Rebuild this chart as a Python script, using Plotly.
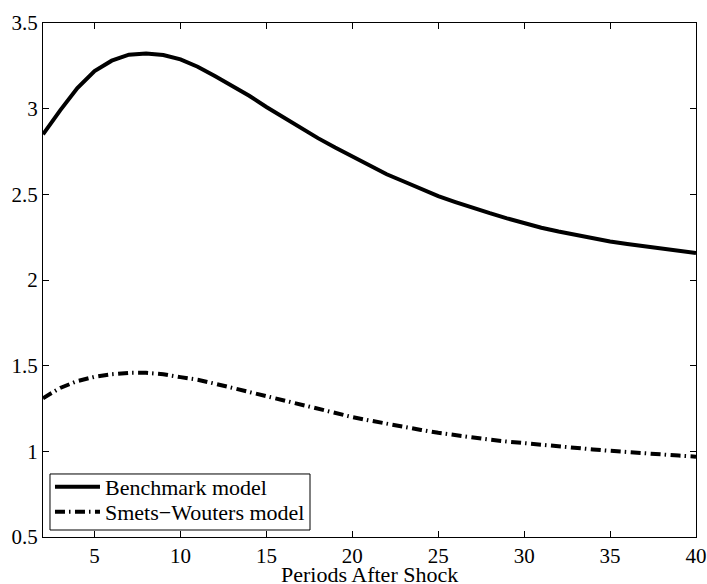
import plotly.graph_objects as go

periods = list(range(2, 41))
benchmark = [2.85, 2.99, 3.12, 3.22, 3.28, 3.315, 3.322, 3.313, 3.288, 3.245,
             3.19, 3.135, 3.075, 3.01, 2.948, 2.888, 2.828, 2.773, 2.72, 2.665,
             2.617, 2.575, 2.53, 2.49, 2.455, 2.42, 2.39, 2.36, 2.33, 2.305,
             2.283, 2.262, 2.243, 2.225, 2.21, 2.196, 2.183, 2.17, 2.158]
smets_wouters = [1.31, 1.37, 1.41, 1.435, 1.45, 1.458, 1.458, 1.45, 1.433, 1.418,
                 1.395, 1.37, 1.345, 1.32, 1.295, 1.27, 1.248, 1.225, 1.20, 1.18,
                 1.16, 1.142, 1.125, 1.108, 1.093, 1.08, 1.068, 1.057, 1.047, 1.038,
                 1.029, 1.02, 1.011, 1.003, 0.995, 0.988, 0.981, 0.975, 0.969]
x_ticks = [5, 10, 15, 20, 25, 30, 35, 40]
y_ticks = [0.5, 1, 1.5, 2, 2.5, 3, 3.5]
y_tick_labels = ["0.5", "1", "1.5", "2", "2.5", "3", "3.5"]
x_title = "Periods After Shock"

font_family = "Liberation Serif, Times New Roman, serif"

fig = go.Figure()
fig.add_trace(go.Scatter(x=periods, y=benchmark, mode="lines", name="Benchmark model",
                         line=dict(color="black", width=4), legend="legend"))
fig.add_trace(go.Scatter(x=periods, y=smets_wouters, mode="lines", name="Smets\u2212Wouters model",
                         line=dict(color="black", width=4, dash="10px,4px,1.5px,4.5px"),
                         legend="legend2"))

fig.add_annotation(text=x_title, xref="paper", yref="paper", x=0.5, y=-0.073,
                   xanchor="center", yanchor="middle", showarrow=False,
                   font=dict(size=22, family=font_family, color="black"))

# legend frame
fig.add_shape(type="rect", xref="paper", yref="paper",
              x0=0.0107, x1=0.4089, y0=0.0136, y1=0.1226,
              line=dict(color="black", width=1), fillcolor="white", layer="above")

legend_common = dict(xanchor="left", yanchor="middle", bgcolor="rgba(0,0,0,0)",
                     borderwidth=0, font=dict(size=22, family=font_family, color="black"),
                     itemwidth=45)

fig.update_layout(
    width=707, height=584,
    margin=dict(l=43, r=11, t=23, b=47),
    paper_bgcolor="white", plot_bgcolor="white",
    font=dict(family=font_family, size=21, color="black"),
    showlegend=True,
    legend=dict(x=0.0107, y=0.0973, **legend_common),
    legend2=dict(x=0.0107, y=0.0486, **legend_common),
    xaxis=dict(range=[2, 40], tickvals=x_ticks, ticks="inside", ticklen=6,
               tickcolor="black", showline=True, linecolor="black", linewidth=1,
               mirror="allticks", showgrid=False, zeroline=False, automargin=False),
    yaxis=dict(range=[0.5, 3.5], tickvals=y_ticks, ticktext=y_tick_labels,
               ticks="inside", ticklen=6, tickcolor="black", showline=True,
               linecolor="black", linewidth=1, mirror="allticks",
               showgrid=False, zeroline=False, automargin=False),
)

fig.write_html("out.html", config={"displayModeBar": False},
               post_script="document.body.style.margin='0';document.body.style.overflow='hidden';")
